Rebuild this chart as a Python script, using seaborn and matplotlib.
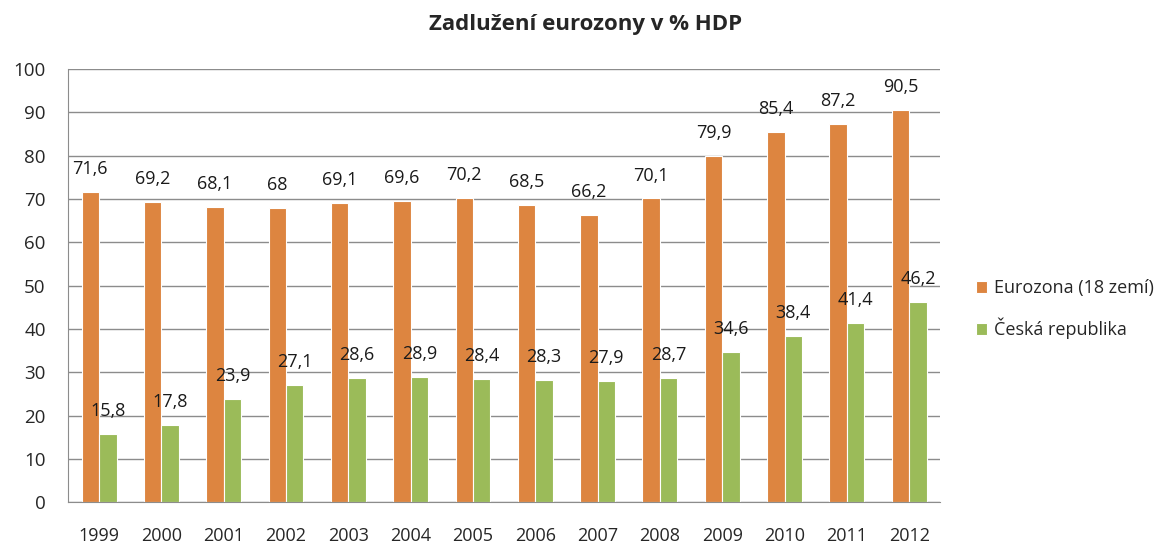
import pandas as pd
import matplotlib
matplotlib.use("Agg")
import matplotlib.pyplot as plt
import seaborn as sns

# data
years = ["1999", "2000", "2001", "2002", "2003", "2004", "2005",
         "2006", "2007", "2008", "2009", "2010", "2011", "2012"]
eurozona = [71.6, 69.2, 68.1, 68, 69.1, 69.6, 70.2, 68.5, 66.2, 70.1, 79.9, 85.4, 87.2, 90.5]
cesko = [15.8, 17.8, 23.9, 27.1, 28.6, 28.9, 28.4, 28.3, 27.9, 28.7, 34.6, 38.4, 41.4, 46.2]
series_names = ["Eurozona (18 zemí)", "Česká republika"]
colors = ["#DD8540", "#9BBB59"]

df = pd.DataFrame({
    "rok": years * 2,
    "hodnota": eurozona + cesko,
    "serie": [series_names[0]] * len(years) + [series_names[1]] * len(years),
})

sns.set_style("white")
plt.rcParams["font.family"] = ["Open Sans", "DejaVu Sans"]

fig = plt.figure(figsize=(11.71, 5.47), dpi=100)
ax = fig.add_axes([0.058, 0.082, 0.745, 0.792])

sns.barplot(data=df, x="rok", y="hodnota", hue="serie", palette=colors,
            saturation=1, width=0.56, edgecolor="white", linewidth=0.8, ax=ax)

for cont in ax.containers:
    ax.bar_label(cont, labels=[f"{v:g}".replace(".", ",") for v in cont.datavalues],
                 padding=10, fontsize=13, color="#1a1a1a")

ax.set_ylim(0, 100)
ax.set_yticks(range(0, 101, 10))
ax.set_xlim(-0.5, len(years) - 0.5)
ax.yaxis.grid(True, color="#8c8c8c", linewidth=1)
ax.set_axisbelow(True)
ax.set_xlabel("")
ax.set_ylabel("")

for side in ["top", "right"]:
    ax.spines[side].set_visible(False)
for side in ["left", "bottom"]:
    ax.spines[side].set_color("#8c8c8c")

# ticks at category boundaries like Excel
ax.set_xticks([i - 0.5 for i in range(len(years) + 1)], minor=False)
ax.set_xticklabels([])
ax.set_xticks(range(len(years)), minor=True)
ax.set_xticklabels(years, minor=True, fontsize=13)
ax.tick_params(axis="x", which="major", length=6, color="#8c8c8c", direction="out")
ax.tick_params(axis="x", which="minor", length=0, pad=18)
ax.tick_params(axis="y", length=6, color="#8c8c8c", labelsize=13.5, direction="out", pad=10)

ax.legend(loc="center left", bbox_to_anchor=(1.022, 0.445), frameon=False,
          fontsize=13, handlelength=0.6, handleheight=0.6, labelspacing=1.15,
          handletextpad=0.4)

fig.suptitle("Zadlužení eurozony v % HDP", fontsize=16, fontweight="bold", x=0.5, y=0.975)

fig.savefig("out.png", dpi=100)
